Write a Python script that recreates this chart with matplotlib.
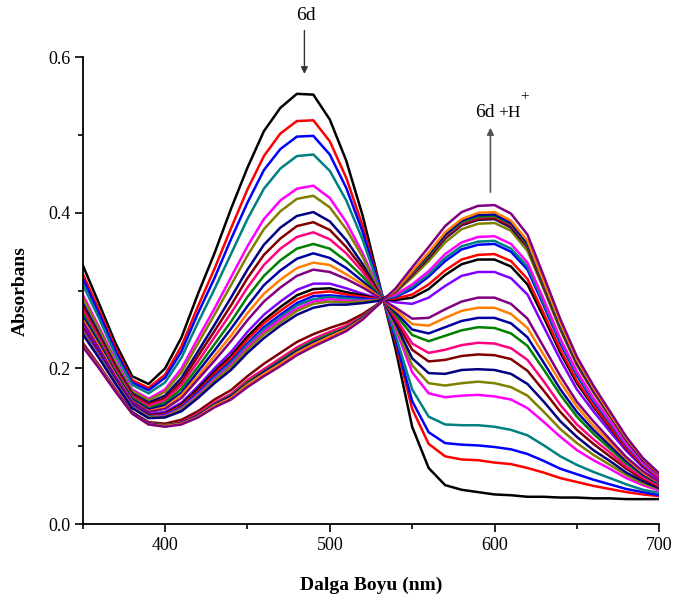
import matplotlib
matplotlib.use("Agg")
import matplotlib.pyplot as plt
from matplotlib.ticker import MultipleLocator, FormatStrFormatter

plt.rcParams["font.family"] = ["Liberation Serif", "DejaVu Serif"]

# wavelength grid (nm)
wavelength = [350, 360, 370, 380, 390, 400, 410, 420, 430, 440, 450, 460,
              470, 480, 490, 500, 510, 520, 530, 540, 550, 560, 570, 580,
              590, 600, 610, 620, 630, 640, 650, 660, 670, 680, 690, 700]

# absorbance spectra, first (6d) to last (6d+H+)
s01 = [.333, .283, .232, .190, .180, .200, .240, .296, .348, .405, .458, .505, .535, .553, .552, .520, .467, .396, .310,
       .224, .125, .072, .050, .044, .041, .038, .037, .035, .035, .034, .034, .033, .033, .032, .032, .032]
s02 = [.322, .275, .226, .185, .175, .192, .229, .280, .328, .380, .430, .473, .502, .518, .519, .492, .445, .383, .307,
       .233, .148, .103, .087, .083, .082, .079, .077, .072, .066, .059, .054, .049, .045, .041, .038, .036]
s03 = [.316, .270, .222, .182, .172, .188, .222, .271, .316, .366, .413, .455, .482, .498, .499, .475, .432, .375, .306,
       .237, .158, .118, .104, .102, .101, .099, .096, .090, .081, .071, .064, .057, .051, .045, .041, .037]
s04 = [.308, .264, .217, .179, .168, .182, .214, .259, .302, .347, .392, .431, .457, .473, .475, .454, .416, .365, .304,
       .242, .173, .138, .128, .127, .127, .125, .121, .114, .101, .087, .076, .067, .059, .051, .044, .040]
s05 = [.295, .253, .210, .173, .161, .173, .200, .239, .277, .317, .357, .392, .416, .431, .435, .419, .388, .348, .300,
       .251, .195, .168, .163, .165, .166, .164, .160, .149, .131, .112, .095, .082, .071, .059, .050, .043]
s06 = [.291, .250, .207, .171, .159, .170, .195, .232, .269, .307, .345, .379, .402, .418, .422, .407, .379, .343, .299,
       .254, .204, .181, .178, .181, .183, .181, .176, .165, .144, .122, .104, .089, .076, .063, .052, .045]
s07 = [.284, .244, .203, .168, .156, .165, .188, .222, .256, .291, .327, .359, .381, .396, .401, .389, .365, .334, .297,
       .258, .213, .194, .193, .198, .199, .198, .193, .180, .157, .132, .112, .095, .081, .066, .055, .046]
s08 = [.280, .241, .201, .166, .154, .162, .183, .216, .248, .281, .316, .346, .367, .383, .388, .378, .356, .329, .296,
       .262, .224, .209, .211, .216, .218, .217, .212, .197, .171, .144, .121, .103, .087, .071, .058, .048]
s09 = [.276, .238, .198, .164, .152, .159, .179, .209, .240, .271, .304, .333, .354, .369, .375, .366, .348, .324, .295,
       .265, .232, .220, .224, .230, .233, .232, .226, .211, .183, .153, .128, .109, .092, .074, .060, .049]
s10 = [.271, .234, .195, .162, .149, .156, .174, .202, .231, .260, .292, .319, .339, .354, .360, .354, .338, .318, .294,
       .269, .243, .235, .242, .249, .253, .252, .245, .229, .198, .166, .138, .116, .097, .078, .063, .051]
s11 = [.267, .231, .193, .160, .147, .153, .169, .196, .223, .251, .280, .307, .326, .341, .348, .342, .329, .312, .293,
       .272, .250, .245, .253, .261, .265, .265, .258, .240, .207, .173, .144, .121, .101, .081, .064, .052]
s12 = [.263, .228, .191, .158, .145, .150, .166, .190, .216, .242, .271, .296, .314, .329, .336, .333, .321, .308, .292,
       .275, .257, .255, .265, .274, .278, .278, .270, .252, .217, .182, .151, .126, .105, .084, .066, .053]
s13 = [.260, .225, .189, .157, .144, .148, .162, .186, .210, .235, .262, .286, .304, .319, .327, .324, .315, .304, .291,
       .278, .264, .265, .276, .286, .291, .291, .283, .264, .227, .190, .157, .132, .109, .086, .068, .054]
s14 = [.254, .221, .186, .154, .141, .144, .156, .177, .200, .221, .247, .269, .286, .301, .309, .309, .303, .296, .290,
       .285, .283, .291, .306, .319, .324, .324, .316, .295, .253, .211, .173, .145, .119, .094, .073, .057]
s15 = [.252, .219, .184, .153, .140, .142, .154, .174, .196, .216, .241, .262, .279, .294, .302, .303, .298, .294, .289,
       .288, .291, .302, .320, .334, .340, .340, .331, .308, .265, .220, .181, .151, .124, .097, .075, .059]
s16 = [.251, .218, .183, .152, .139, .141, .152, .171, .193, .213, .237, .258, .274, .289, .297, .299, .295, .292, .289,
       .290, .295, .308, .326, .340, .346, .347, .338, .315, .270, .224, .184, .153, .126, .098, .076, .059]
s17 = [.249, .217, .182, .152, .138, .140, .150, .169, .190, .209, .232, .253, .269, .284, .293, .294, .292, .290, .288,
       .292, .302, .318, .338, .353, .359, .360, .350, .327, .280, .232, .191, .158, .130, .101, .078, .061]
s18 = [.248, .216, .182, .151, .138, .139, .149, .167, .188, .207, .230, .250, .266, .281, .289, .292, .290, .288, .288,
       .293, .305, .321, .342, .357, .363, .364, .354, .331, .283, .235, .193, .160, .131, .102, .078, .061]
s19 = [.247, .215, .181, .151, .137, .139, .148, .166, .186, .204, .227, .247, .263, .277, .286, .289, .287, .287, .288,
       .295, .308, .325, .347, .362, .369, .370, .360, .336, .288, .238, .196, .162, .133, .103, .079, .061]
s20 = [.246, .214, .181, .150, .137, .138, .147, .164, .184, .202, .224, .244, .259, .274, .283, .286, .285, .286, .288,
       .298, .317, .338, .362, .379, .386, .387, .377, .351, .301, .249, .204, .169, .138, .107, .082, .063]
s21 = [.244, .213, .180, .149, .136, .137, .145, .162, .181, .198, .220, .239, .255, .269, .278, .282, .282, .284, .287,
       .299, .320, .342, .367, .384, .391, .392, .381, .356, .304, .252, .206, .171, .140, .108, .082, .063]
s22 = [.233, .204, .173, .144, .131, .129, .134, .145, .160, .172, .190, .206, .220, .234, .244, .252, .259, .270, .284,
       .299, .321, .343, .368, .385, .392, .393, .383, .357, .305, .253, .207, .171, .140, .108, .083, .064]
s23 = [.231, .203, .172, .143, .130, .127, .131, .142, .156, .167, .185, .199, .213, .227, .238, .247, .255, .267, .284,
       .300, .322, .345, .370, .387, .394, .395, .385, .359, .307, .254, .208, .172, .141, .109, .083, .064]
s24 = [.230, .202, .171, .143, .129, .127, .130, .140, .154, .165, .182, .196, .210, .224, .235, .244, .252, .266, .284,
       .300, .323, .345, .371, .388, .395, .396, .386, .359, .307, .254, .208, .173, .141, .109, .083, .064]
s25 = [.230, .201, .171, .143, .129, .126, .130, .139, .153, .164, .180, .195, .208, .222, .233, .242, .251, .265, .283,
       .301, .324, .347, .372, .390, .397, .398, .387, .361, .309, .256, .209, .173, .141, .109, .083, .064]
s26 = [.229, .201, .171, .142, .128, .126, .129, .138, .152, .162, .179, .193, .206, .220, .231, .241, .250, .264, .283,
       .301, .325, .349, .375, .392, .400, .401, .390, .364, .311, .258, .211, .175, .142, .110, .084, .064]
s27 = [.228, .200, .170, .142, .128, .125, .128, .137, .150, .160, .176, .190, .203, .217, .228, .238, .248, .263, .283,
       .303, .330, .356, .383, .401, .409, .410, .399, .372, .318, .263, .215, .178, .145, .112, .085, .065]

spectra = [s01, s02, s03, s04, s05, s06, s07, s08, s09, s10, s11, s12, s13, s14,
           s15, s16, s17, s18, s19, s20, s21, s22, s23, s24, s25, s26, s27]

# Origin-style colour cycle
palette = ["#000000", "#FF0000", "#0000FF", "#008080", "#FF00FF", "#808000", "#000080",
           "#800000", "#FF0080", "#008000", "#0000A0", "#FF8000", "#800080", "#8000FF"]

fig = plt.figure(figsize=(6.75, 6.03), dpi=100)
ax = fig.add_axes([0.1225, 0.131, 0.8542, 0.774])

for i, s in enumerate(spectra):
    ax.plot(wavelength, s, color=palette[i % len(palette)], lw=1.8,
            solid_joinstyle="round", solid_capstyle="round")

ax.set_xlim(350, 700)
ax.set_ylim(0, 0.6)
ax.spines["top"].set_visible(False)
ax.spines["right"].set_visible(False)
for sp in ("left", "bottom"):
    ax.spines[sp].set_linewidth(1.3)

ax.xaxis.set_major_locator(MultipleLocator(100))
ax.xaxis.set_minor_locator(MultipleLocator(50))
ax.yaxis.set_major_locator(MultipleLocator(0.2))
ax.yaxis.set_minor_locator(MultipleLocator(0.1))
ax.yaxis.set_major_formatter(FormatStrFormatter("%.1f"))
ax.tick_params(which="major", direction="out", length=6, width=1.2, labelsize=13, pad=3)
ax.tick_params(which="minor", direction="out", length=3.5, width=1.2)

ax.set_xlabel("Dalga Boyu (nm)", fontsize=14, fontweight="bold", labelpad=17)
ax.set_ylabel("Absorbans", fontsize=14, fontweight="bold", labelpad=14)

# annotations
ax.annotate("", xy=(484.6, 0.575), xytext=(484.6, 0.638), annotation_clip=False,
            arrowprops=dict(arrowstyle="-|>", color="#333333", lw=1.0, mutation_scale=10))
ax.text(485.8, 0.654, "6d", fontsize=14, ha="center", va="center", clip_on=False)

ax.annotate("", xy=(597.5, 0.513), xytext=(597.5, 0.423), annotation_clip=False,
            arrowprops=dict(arrowstyle="-|>", color="#555555", lw=1.2, mutation_scale=10))
ax.text(594.0, 0.523, "6d", fontsize=14, ha="center", va="baseline", clip_on=False)
ax.text(602.0, 0.523, "+H", fontsize=12.5, ha="left", va="baseline", clip_on=False)
ax.text(615.5, 0.549, "+", fontsize=11, ha="left", va="center", clip_on=False)

fig.savefig("out.png", dpi=100)
